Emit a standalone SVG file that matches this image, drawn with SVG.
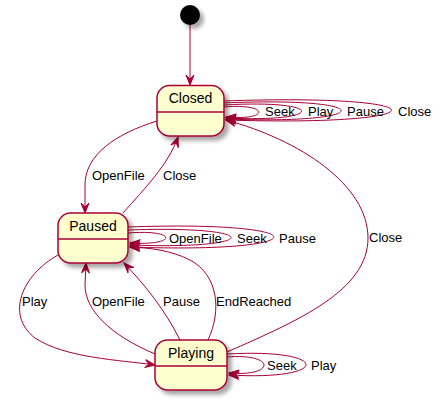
<svg xmlns="http://www.w3.org/2000/svg" width="442" height="418" viewBox="0 0 442 418">
<style>
.st{fill:#FEFECE;stroke:#A80036;stroke-width:1.5}
.dv{stroke:#A80036;stroke-width:1.5}
.nm{font-family:"Liberation Sans",Arial,sans-serif;font-size:14px;fill:#000;text-anchor:middle}
.lb{font-family:"Liberation Sans",Arial,sans-serif;font-size:13px;fill:#000}
.e{fill:none;stroke:#A80036;stroke-width:1;marker-end:url(#ah)}
</style>
<defs>
<filter id="sh" x="-20%" y="-20%" width="150%" height="150%">
<feGaussianBlur in="SourceAlpha" stdDeviation="2"/>
<feOffset dx="4" dy="4" result="b"/>
<feComponentTransfer><feFuncA type="linear" slope="0.35"/></feComponentTransfer>
<feMerge><feMergeNode/><feMergeNode in="SourceGraphic"/></feMerge>
</filter>
<marker id="ah" viewBox="-11 -5 12 10" markerWidth="12" markerHeight="10" refX="0" refY="0" markerUnits="userSpaceOnUse" orient="auto">
<path d="M0,0 L-10,-4 L-6,0 L-10,4 Z" fill="#A80036" stroke="#A80036" stroke-width="1"/>
</marker>
</defs>
<rect width="442" height="418" fill="#fff"/>
<g id="connectors">
<path class="e" d="M190,25 L190,85"/>
<path class="e" d="M157,121 C115,134 85,155 85,185 L85,213"/>
<path class="e" d="M123,213 C145,188 168,165 178,137"/>
<path class="e" d="M224,107 C270,103 270,121 226,117"/>
<path class="e" d="M224,105 C327,99 327,123 226,118"/>
<path class="e" d="M224,103 C380,96 380,125 226,119"/>
<path class="e" d="M224,101 C447,93 447,127 226,120"/>
<path class="e" d="M128,233 C178,229 178,246 130,243"/>
<path class="e" d="M128,230 C265,225 265,250 130,245"/>
<path class="e" d="M128,227 C322,220 322,254 130,247"/>
<path class="e" d="M227,357 C276,353 276,377 229,373"/>
<path class="e" d="M227,354 C332,348 332,381 229,375"/>
<path class="e" d="M58,255 C22,275 5,315 35,338 C65,358 120,360 155,365"/>
<path class="e" d="M155,354 C110,335 85,310 85,285 L86,263"/>
<path class="e" d="M180,340 C165,310 145,285 124,263"/>
<path class="e" d="M208,340 C222,310 218,275 190,260 C170,250 150,248 130,247"/>
<path class="e" d="M227,352 C300,320 368,290 368,238 C368,185 300,140 226,120"/>
<text class="lb" x="92" y="180">OpenFile</text>
<text class="lb" x="163" y="180">Close</text>
<text class="lb" x="265" y="116">Seek</text>
<text class="lb" x="308" y="116">Play</text>
<text class="lb" x="347" y="116">Pause</text>
<text class="lb" x="398" y="116">Close</text>
<text class="lb" x="169" y="243">OpenFile</text>
<text class="lb" x="237" y="243">Seek</text>
<text class="lb" x="279" y="243">Pause</text>
<text class="lb" x="369" y="242">Close</text>
<text class="lb" x="22" y="306">Play</text>
<text class="lb" x="92" y="306">OpenFile</text>
<text class="lb" x="163" y="306">Pause</text>
<text class="lb" x="216" y="306">EndReached</text>
<text class="lb" x="267" y="370">Seek</text>
<text class="lb" x="311" y="370">Play</text>
</g>
<g id="start">
<circle cx="190" cy="15" r="10" fill="#000" filter="url(#sh)"/>
</g>
<g id="closed">
<rect class="st" x="157" y="85.5" width="67" height="50.5" rx="12.5" filter="url(#sh)"/>
<line class="dv" x1="157" y1="112" x2="224" y2="112"/>
<text class="nm" x="190.5" y="103">Closed</text>
</g>
<g id="paused">
<rect class="st" x="58" y="213" width="70" height="50" rx="12.5" filter="url(#sh)"/>
<line class="dv" x1="58" y1="239" x2="128" y2="239"/>
<text class="nm" x="93" y="231">Paused</text>
</g>
<g id="playing">
<rect class="st" x="155" y="340" width="72" height="50" rx="12.5" filter="url(#sh)"/>
<line class="dv" x1="155" y1="366" x2="227" y2="366"/>
<text class="nm" x="191" y="358">Playing</text>
</g>
</svg>
